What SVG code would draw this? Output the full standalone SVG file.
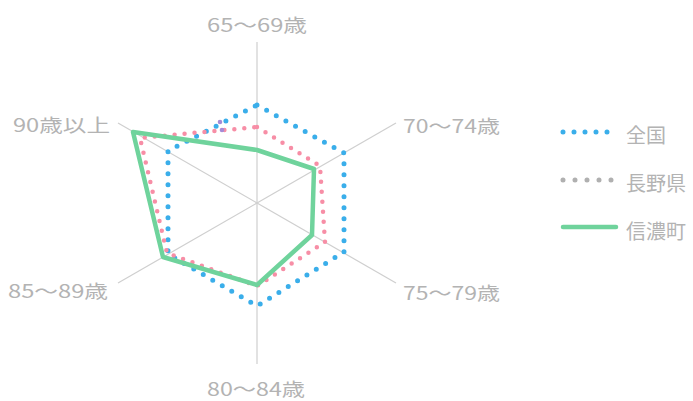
<svg xmlns="http://www.w3.org/2000/svg" width="693" height="401" viewBox="0 0 693 401">
<style>
.lbl{font-family:"Noto Sans CJK JP","Liberation Sans",sans-serif;font-size:18px;fill:#b3b3b3;}
.leg{font-family:"Noto Sans CJK JP","Liberation Sans",sans-serif;font-size:20px;fill:#b3b3b3;}
.axis{stroke:#cfcfcf;stroke-width:1.2;fill:none;}
.blue{stroke:#3aaeea;stroke-width:5;stroke-dasharray:0 11;stroke-linecap:round;fill:none;}
.pink{stroke:#f78ea6;stroke-width:4.5;stroke-dasharray:0 10;stroke-linecap:round;fill:none;}
.gray{stroke:#b0b0b0;stroke-width:5;stroke-dasharray:0 12;stroke-linecap:round;fill:none;}
.green{stroke:#6fd39c;stroke-width:4.5;stroke-linejoin:round;stroke-linecap:round;fill:none;}
</style>
<rect width="693" height="401" fill="#ffffff"/>
<g id="grid">
<line class="axis" x1="257" y1="203" x2="257" y2="42"/>
<line class="axis" x1="257" y1="203" x2="396" y2="123"/>
<line class="axis" x1="257" y1="203" x2="396" y2="283"/>
<line class="axis" x1="257" y1="203" x2="257" y2="364"/>
<line class="axis" x1="257" y1="203" x2="118" y2="283"/>
<line class="axis" x1="257" y1="203" x2="118" y2="123"/>
</g>
<g id="labels">
<text class="lbl" x="207" y="32" textLength="100" lengthAdjust="spacingAndGlyphs">65～69歳</text>
<text class="lbl" x="403" y="133" textLength="97" lengthAdjust="spacingAndGlyphs">70～74歳</text>
<text class="lbl" x="403" y="300" textLength="97" lengthAdjust="spacingAndGlyphs">75～79歳</text>
<text class="lbl" x="207" y="396" textLength="98" lengthAdjust="spacingAndGlyphs">80～84歳</text>
<text class="lbl" x="8" y="298" textLength="100" lengthAdjust="spacingAndGlyphs">85～89歳</text>
<text class="lbl" x="13" y="132" textLength="97" lengthAdjust="spacingAndGlyphs">90歳以上</text>
</g>
<g id="connectors">
<polygon id="series-zenkoku" class="blue" points="257,105 344,153 344,252 257,306 168,254 168,151"/>
<polygon id="series-nagano" class="pink" points="257,127 320,166 325,242 257,286 167,253 140,138"/>
<circle cx="220" cy="122" r="2.3" fill="#a58bd6"/>
<circle cx="222" cy="130" r="2.3" fill="#a58bd6"/>
<polygon id="series-shinano" class="green" points="257,150 314,169 312,235 257,285 163,257 133,132"/>
</g>
<g id="legend-zenkoku">
<line class="blue" x1="563" y1="132" x2="614" y2="132"/>
<text class="leg" x="626" y="143">全国</text>
</g>
<g id="legend-nagano">
<line class="gray" x1="563" y1="180" x2="614" y2="180"/>
<text class="leg" x="626" y="191">長野県</text>
</g>
<g id="legend-shinano">
<line class="green" x1="563" y1="227" x2="616" y2="227" stroke-width="5"/>
<text class="leg" x="626" y="239">信濃町</text>
</g>
</svg>
